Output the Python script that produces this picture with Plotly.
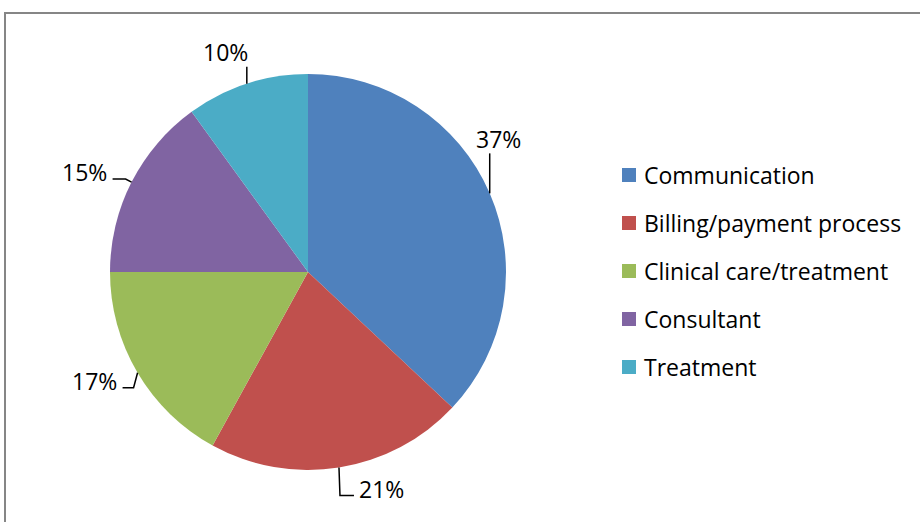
import math
import plotly.graph_objects as go

labels = ["Communication", "Billing/payment process", "Clinical care/treatment",
          "Consultant", "Treatment"]
values = [37, 21, 17, 15, 10]
colors = ["#4F81BD", "#C0504D", "#9BBB59", "#8064A2", "#4BACC6"]

W, H = 920, 522
CX, CY, R = 308, 272, 198
FONT = "Open Sans, sans-serif"

# leader line bends and label offsets (pixels, relative to slice edge point)
leader_paths = [[(0, -40)], [(1, 28), (15, 28)], [(-4, 15), (-15, 15)],
                [(-6, -3), (-19, -3)], [(0, -17)]]
label_offsets = [(9, -54), (43, 21), (-43, 8), (-47, -10), (-21, -32)]


def px(x, y):
    return x / W, 1 - y / H


fig = go.Figure()
fig.add_trace(go.Pie(
    labels=labels,
    values=values,
    sort=False,
    direction="clockwise",
    rotation=0,
    textinfo="none",
    hoverinfo="label+percent",
    marker=dict(colors=colors, line=dict(width=0)),
    domain=dict(x=[(CX - R) / W, (CX + R) / W],
                y=[(H - CY - R) / H, (H - CY + R) / H]),
    showlegend=False,
))

shapes = []
annotations = []
total = sum(values)
cum = 0
for i, v in enumerate(values):
    mid = (cum + v / 2) / total * 2 * math.pi
    cum += v
    ex = CX + R * math.sin(mid)
    ey = CY - R * math.cos(mid)
    pts = [(ex, ey)] + [(ex + dx, ey + dy) for dx, dy in leader_paths[i]]
    path = ""
    for j, (x, y) in enumerate(pts):
        fx, fy = px(x, y)
        path += ("M" if j == 0 else " L") + " {:.5f},{:.5f}".format(fx, fy)
    shapes.append(dict(type="path", path=path, xref="paper", yref="paper",
                       line=dict(color="black", width=1.5)))
    lx, ly = px(ex + label_offsets[i][0], ey + label_offsets[i][1])
    annotations.append(dict(x=lx, y=ly, xref="paper", yref="paper",
                            text="{:.0f}%".format(v / total * 100),
                            showarrow=False, xanchor="center", yanchor="middle",
                            font=dict(family=FONT, size=23, color="black")))

# legend drawn by hand so the row spacing matches
for i, lab in enumerate(labels):
    yc = 175 + 48 * i
    x0, y0 = px(622, yc - 7)
    x1, y1 = px(636, yc + 7)
    shapes.append(dict(type="rect", xref="paper", yref="paper",
                       x0=x0, x1=x1, y0=y1, y1=y0,
                       fillcolor=colors[i], line=dict(width=0)))
    tx, ty = px(642, yc)
    annotations.append(dict(x=tx, y=ty, xref="paper", yref="paper", text=lab,
                            showarrow=False, xanchor="left", yanchor="middle",
                            font=dict(family=FONT, size=23, color="black")))

# chart frame
bx0, by0 = px(5, 13)
bx1, by1 = px(W + 10, H + 10)
shapes.append(dict(type="rect", xref="paper", yref="paper",
                   x0=bx0, x1=bx1, y0=by1, y1=by0,
                   line=dict(color="#868686", width=2)))

fig.update_layout(
    width=W, height=H,
    margin=dict(l=0, r=0, t=0, b=0),
    paper_bgcolor="white",
    plot_bgcolor="white",
    showlegend=False,
    shapes=shapes,
    annotations=annotations,
    font=dict(family=FONT),
)

fig.write_html("out.html", config={"displayModeBar": False},
               post_script="document.body.style.margin='0';")
